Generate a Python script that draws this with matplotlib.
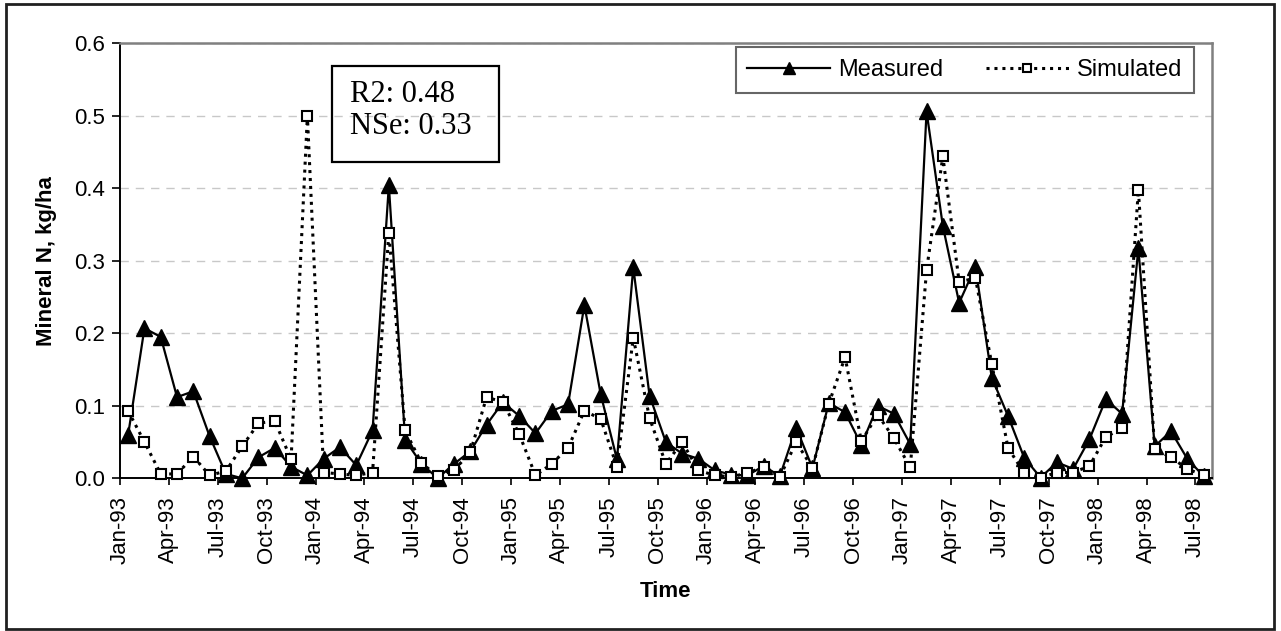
import matplotlib
matplotlib.use("Agg")
import matplotlib.pyplot as plt
import numpy as np
from matplotlib.patches import Rectangle

plt.rcParams["font.family"] = ["Liberation Sans", "DejaVu Sans"]

# monthly values, Jan-93 .. Jul-98
measured = [
    0.060, 0.207, 0.195, 0.112, 0.120, 0.058, 0.006, 0.000, 0.029, 0.042, 0.016, 0.004,
    0.027, 0.043, 0.018, 0.066, 0.404, 0.053, 0.020, 0.000, 0.020, 0.037, 0.074, 0.105,
    0.086, 0.062, 0.093, 0.102, 0.239, 0.116, 0.026, 0.291, 0.114, 0.050, 0.034, 0.027,
    0.011, 0.005, 0.004, 0.017, 0.003, 0.070, 0.014, 0.104, 0.091, 0.046, 0.100, 0.089,
    0.047, 0.506, 0.348, 0.242, 0.292, 0.139, 0.086, 0.028, 0.001, 0.022, 0.013, 0.054,
    0.109, 0.089, 0.317, 0.044, 0.065, 0.027, 0.003,
]
simulated = [
    0.093, 0.050, 0.006, 0.006, 0.030, 0.004, 0.010, 0.044, 0.076, 0.079, 0.026, 0.500,
    0.008, 0.006, 0.004, 0.008, 0.339, 0.066, 0.021, 0.003, 0.011, 0.036, 0.112, 0.105,
    0.061, 0.004, 0.020, 0.042, 0.093, 0.082, 0.016, 0.194, 0.083, 0.020, 0.050, 0.011,
    0.004, 0.002, 0.007, 0.016, 0.002, 0.050, 0.014, 0.103, 0.167, 0.051, 0.088, 0.055,
    0.015, 0.287, 0.444, 0.271, 0.276, 0.158, 0.042, 0.007, 0.001, 0.008, 0.008, 0.017,
    0.057, 0.069, 0.398, 0.040, 0.029, 0.013, 0.004,
]
tick_labels = [
    "Jan-93", "Apr-93", "Jul-93", "Oct-93", "Jan-94", "Apr-94", "Jul-94", "Oct-94",
    "Jan-95", "Apr-95", "Jul-95", "Oct-95", "Jan-96", "Apr-96", "Jul-96", "Oct-96",
    "Jan-97", "Apr-97", "Jul-97", "Oct-97", "Jan-98", "Apr-98", "Jul-98",
]
stats_text = ["R2: 0.48", "NSe: 0.33"]

W, H = 1281, 631
fig = plt.figure(figsize=(W / 100, H / 100), dpi=100)
ax = fig.add_axes([120 / W, 1 - 478.3 / H, (1211.7 - 120) / W, (478.3 - 43.3) / H])

n = len(measured)
x = np.arange(n) + 0.5

ax.plot(x, measured, color="black", lw=1.6, marker="^", ms=11,
        mfc="black", mec="black", label="Measured", clip_on=False, zorder=3)
ax.plot(x, simulated, color="black", lw=2.2, ls=(0, (1, 1.6)), marker="s", ms=7.5,
        mfc="white", mec="black", mew=1.5, label="Simulated", clip_on=False, zorder=4)

ax.set_xlim(0, n)
ax.set_ylim(0, 0.6)
ax.set_yticks(np.arange(0, 0.61, 0.1))
ax.set_yticklabels([f"{v:.1f}" for v in np.arange(0, 0.61, 0.1)], fontsize=16)
ax.set_xticks(np.arange(0, 3 * len(tick_labels), 3))
ax.set_xticklabels(tick_labels, rotation=90, fontsize=16)
ax.tick_params(axis="y", direction="out", length=6, width=1.2, pad=5)
ax.tick_params(axis="x", direction="out", length=5, width=1.2, pad=8)

ax.yaxis.grid(True, color="#c8c8c8", ls=(0, (6, 5)), lw=1)
ax.set_axisbelow(True)
for side in ["top", "right"]:
    ax.spines[side].set_color("#808080")
    ax.spines[side].set_linewidth(1.8)
for side in ["left", "bottom"]:
    ax.spines[side].set_color("black")
    ax.spines[side].set_linewidth(1.4)

ax.set_ylabel("Mineral N, kg/ha", fontsize=16, fontweight="bold", labelpad=12)
ax.set_xlabel("Time", fontsize=16, fontweight="bold", labelpad=12)

leg = ax.legend(loc="upper right", bbox_to_anchor=(1194 / W, 1 - 47 / H),
                bbox_transform=fig.transFigure, ncol=2, fontsize=17,
                frameon=True, fancybox=False, handlelength=3.5, handletextpad=0.35,
                columnspacing=1.8, borderaxespad=0, borderpad=0.5, markerscale=0.85)
leg.get_frame().set_edgecolor("#404040")
leg.get_frame().set_linewidth(1.5)

# statistics box
fig.patches.append(Rectangle((332 / W, 1 - 162 / H), 167 / W, 96 / H,
                             transform=fig.transFigure, fill=False,
                             edgecolor="black", lw=1.6))
fig.text(350 / W, 1 - 95 / H, stats_text[0], fontsize=22, va="center",
         family=["Liberation Serif", "DejaVu Serif"])
fig.text(350 / W, 1 - 126 / H, stats_text[1], fontsize=22, va="center",
         family=["Liberation Serif", "DejaVu Serif"])

# outer frame
fig.patches.append(Rectangle((6 / W, 1 - 629 / H), 1268 / W, 625 / H,
                             transform=fig.transFigure, fill=False,
                             edgecolor="#202020", lw=2))

fig.savefig("out.png", dpi=100)
